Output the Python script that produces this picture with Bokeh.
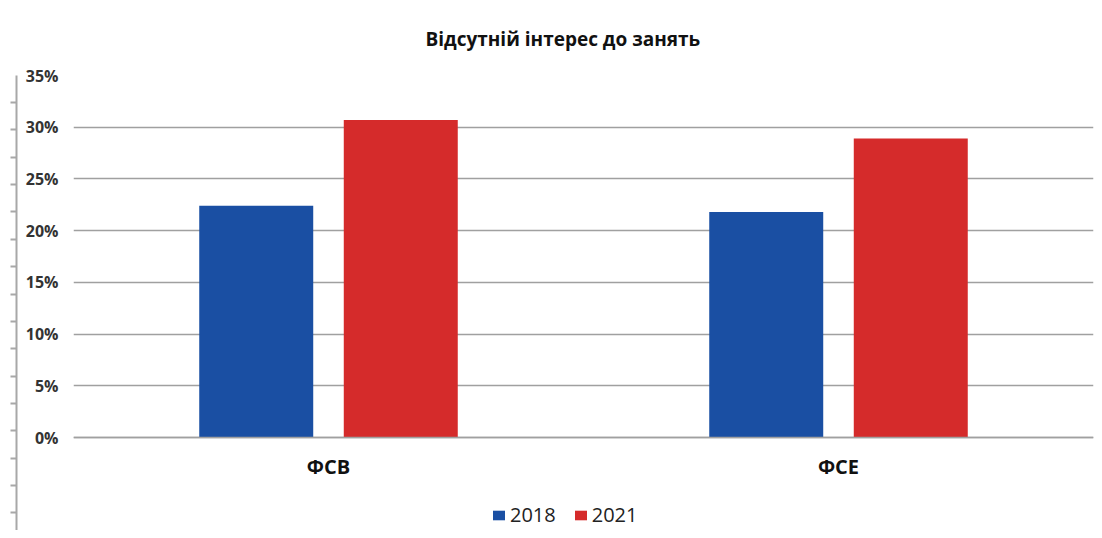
from bokeh.plotting import figure
from bokeh.models import (ColumnDataSource, FactorRange, Range1d, Legend, LegendItem,
                          NumeralTickFormatter, FixedTicker, LinearAxis)
from bokeh.transform import dodge
from bokeh.embed import file_html
from bokeh.resources import INLINE

# ---- data ----
categories = ["ФСВ", "ФСЕ"]
years = ["2018", "2021"]
values_2018 = [0.224, 0.218]
values_2021 = [0.307, 0.289]
y_ticks = [0.0, 0.05, 0.10, 0.15, 0.20, 0.25, 0.30, 0.35]
ruler_ticks = list(range(0, 17))
title_text = "Відсутній інтерес до занять"

BLUE = "#1a4fa3"
RED = "#d52b2b"
GRID = "#a0a0a0"
FONT = "Open Sans"

src = ColumnDataSource(dict(cat=categories, v2018=values_2018, v2021=values_2021))

# the frame reaches down to the bottom so the legend can sit under the category labels
p = figure(x_range=FactorRange(*categories), y_range=Range1d(-0.0899, 0.35),
           width=1094, height=530, frame_width=1020, frame_height=455,
           output_backend="svg", toolbar_location=None,
           min_border_left=73, min_border_right=1, min_border_top=75, min_border_bottom=0,
           background_fill_color="white", border_fill_color="white")
p.outline_line_color = None

r1 = p.vbar(x=dodge("cat", -0.1417, range=p.x_range), top="v2018", width=0.2235,
            source=src, fill_color=BLUE, line_color=None)
r2 = p.vbar(x=dodge("cat", 0.1417, range=p.x_range), top="v2021", width=0.2235,
            source=src, fill_color=RED, line_color=None)

# title
p.title.text = title_text
p.title.text_font = FONT
p.title.text_font_style = "bold"
p.title.text_font_size = "19px"
p.title.text_color = "#111111"
p.title.align = "left"
p.title.offset = 352
p.title.standoff = 47

# grid
p.xgrid.grid_line_color = None
p.ygrid.grid_line_color = GRID
p.ygrid.grid_line_width = 1.5
p.ygrid.ticker = FixedTicker(ticks=y_ticks)

# y axis
ya = p.yaxis[0]
ya.ticker = FixedTicker(ticks=y_ticks)
ya.formatter = NumeralTickFormatter(format="0%")
ya.axis_line_color = None
ya.major_tick_line_color = None
ya.minor_tick_line_color = None
ya.major_label_standoff = 9
ya.major_label_text_font = FONT
ya.major_label_text_font_style = "bold"
ya.major_label_text_font_size = "16px"
ya.major_label_text_color = "#333333"
ya.axis_label = " "
ya.axis_label_text_font_size = "3px"
ya.axis_label_standoff = 0

# x axis, pinned at the 0% line
xa = p.xaxis[0]
xa.fixed_location = 0
xa.axis_line_color = GRID
xa.axis_line_width = 1.5
xa.major_tick_line_color = None
xa.minor_tick_line_color = None
xa.major_label_standoff = 9
xa.major_label_text_font = FONT
xa.major_label_text_font_style = "bold"
xa.major_label_text_font_size = "20px"
xa.major_label_text_color = "#111111"

# decorative ruler at the far left
p.extra_y_ranges = {"ruler": Range1d(-0.647, 15.99)}
ruler = LinearAxis(y_range_name="ruler", ticker=FixedTicker(ticks=ruler_ticks))
ruler.axis_line_color = "#a8a8a8"
ruler.axis_line_width = 2
ruler.major_tick_line_color = "#a8a8a8"
ruler.major_tick_line_width = 2
ruler.major_tick_out = 6
ruler.major_tick_in = 0
ruler.minor_tick_line_color = None
ruler.major_label_text_font_size = "0px"
ruler.major_label_standoff = 0
p.add_layout(ruler, "left")

# legend at the bottom of the frame
legend = Legend(items=[LegendItem(label=years[0], renderers=[r1]),
                       LegendItem(label=years[1], renderers=[r2])],
                orientation="horizontal", location=(418, 2))
legend.label_text_font = FONT
legend.label_text_font_size = "20px"
legend.label_text_color = "#222222"
legend.glyph_width = 15
legend.glyph_height = 12
legend.label_standoff = 4
legend.spacing = 17
legend.padding = 2
legend.margin = 0
legend.border_line_color = None
legend.background_fill_alpha = 0
p.add_layout(legend, "center")

open("out.html", "w").write(file_html(p, INLINE))
